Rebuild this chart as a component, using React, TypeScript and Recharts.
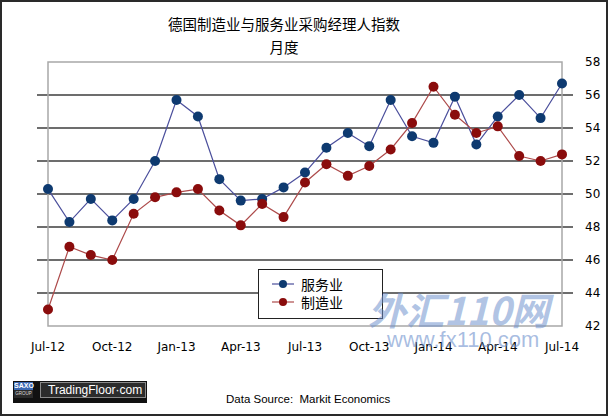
import React from "react";
import {
  LineChart,
  Line,
  XAxis,
  YAxis,
  CartesianGrid,
  Legend,
  ReferenceArea,
} from "recharts";

// Jul-12 .. Jul-14, monthly
const months = [
  "Jul-12", "Aug-12", "Sep-12", "Oct-12", "Nov-12", "Dec-12",
  "Jan-13", "Feb-13", "Mar-13", "Apr-13", "May-13", "Jun-13",
  "Jul-13", "Aug-13", "Sep-13", "Oct-13", "Nov-13", "Dec-13",
  "Jan-14", "Feb-14", "Mar-14", "Apr-14", "May-14", "Jun-14", "Jul-14",
];

const services = [
  50.3, 48.3, 49.7, 48.4, 49.7, 52.0, 55.7, 54.7, 50.9, 49.6, 49.7, 50.4,
  51.3, 52.8, 53.7, 52.9, 55.7, 53.5, 53.1, 55.9, 53.0, 54.7, 56.0, 54.6, 56.7,
];

const manufacturing = [
  43.0, 46.8, 46.3, 46.0, 48.8, 49.8, 50.1, 50.3, 49.0, 48.1, 49.4, 48.6,
  50.7, 51.8, 51.1, 51.7, 52.7, 54.3, 56.5, 54.8, 53.7, 54.1, 52.3, 52.0, 52.4,
];

const yTicks = [42, 44, 46, 48, 50, 52, 54, 56, 58];
const gridValues = [44, 46, 48, 50, 52, 54, 56];

const data = months.map((m, i) => ({
  month: m,
  services: services[i],
  manufacturing: manufacturing[i],
}));

const BLUE_DOT = "#0e3a70";
const BLUE_LINE = "#4b4f9c";
const RED_DOT = "#8a0c0c";
const RED_LINE = "#ad4a4a";

const axisFont = { fontFamily: "DejaVu Sans", fontSize: 12, fill: "#000" };

function LegendBox() {
  const row = (label: string, line: string, dot: string) => (
    <div style={{ display: "flex", alignItems: "center", height: 18 }}>
      <svg width={24} height={12} style={{ marginRight: 6 }}>
        <line x1={1} y1={6} x2={23} y2={6} stroke={line} strokeWidth={1.2} />
        <circle cx={12} cy={6} r={4} fill={dot} />
      </svg>
      <span style={{ fontFamily: "Noto Sans CJK SC", fontSize: 14, color: "#000" }}>
        {label}
      </span>
    </div>
  );
  return (
    <div
      style={{
        boxSizing: "border-box",
        width: 125,
        height: 50,
        border: "1px solid #222",
        background: "#fff",
        padding: "5px 0 0 12px",
      }}
    >
      {row("服务业", BLUE_LINE, BLUE_DOT)}
      {row("制造业", RED_LINE, RED_DOT)}
    </div>
  );
}

export default function App() {
  return (
    <div
      style={{
        position: "absolute",
        left: 0,
        top: 0,
        width: 608,
        height: 416,
        background: "#fff",
        overflow: "hidden",
      }}
    >
      <div
        style={{
          position: "absolute",
          left: 134,
          width: 300,
          top: 14,
          textAlign: "center",
          fontFamily: "Noto Sans CJK SC",
          fontSize: 14.5,
          lineHeight: "20px",
          color: "#000",
        }}
      >
        德国制造业与服务业采购经理人指数
        <br />
        <span style={{ lineHeight: "26px" }}>月度</span>
      </div>

      <LineChart
        width={608}
        height={416}
        data={data}
        margin={{ top: 62, right: 5, bottom: 60, left: 37 }}
        style={{ position: "absolute", left: 0, top: 0 }}
      >
        <ReferenceArea
          y1={42}
          y2={58}
          fill="none"
          stroke="#a8a8a8"
          strokeWidth={1.5}
          ifOverflow="visible"
        />
        <CartesianGrid
          vertical={false}
          horizontalValues={gridValues}
          stroke="#3c3c3c"
          strokeWidth={1.4}
        />
        <XAxis
          dataKey="month"
          interval={2}
          padding={{ left: 11, right: 11 }}
          axisLine={false}
          tickLine={false}
          tickMargin={10}
          tick={axisFont}
        />
        <YAxis
          orientation="right"
          domain={[42, 58]}
          ticks={yTicks}
          width={30}
          axisLine={false}
          tickLine={false}
          tickMargin={6}
          tick={axisFont}
        />
        <Legend
          layout="horizontal"
          verticalAlign="middle"
          align="center"
          content={() => <LegendBox />}
          wrapperStyle={{ left: 258, top: 269, width: 125, height: 50 }}
        />
        <Line
          dataKey="services"
          name="服务业"
          stroke={BLUE_LINE}
          strokeWidth={1.2}
          dot={{ r: 5, fill: BLUE_DOT, stroke: BLUE_DOT, strokeWidth: 0 }}
          isAnimationActive={false}
        />
        <Line
          dataKey="manufacturing"
          name="制造业"
          stroke={RED_LINE}
          strokeWidth={1.2}
          dot={{ r: 5, fill: RED_DOT, stroke: RED_DOT, strokeWidth: 0 }}
          isAnimationActive={false}
        />
      </LineChart>

      {/* site watermark */}
      <div
        style={{
          position: "absolute",
          left: 368,
          top: 289,
          fontFamily: "Noto Sans CJK SC",
          fontWeight: 700,
          fontStyle: "italic",
          fontSize: 38,
          lineHeight: "40px",
          color: "rgba(110,145,205,0.55)",
          pointerEvents: "none",
        }}
      >
        外汇110网
      </div>
      <div
        style={{
          position: "absolute",
          left: 387,
          top: 327,
          fontFamily: "Liberation Sans",
          fontSize: 22,
          lineHeight: "26px",
          color: "rgba(110,145,205,0.6)",
          pointerEvents: "none",
        }}
      >
        www.fx110.com
      </div>

      {/* footer logo */}
      <div style={{ position: "absolute", left: 13, top: 381, width: 134, height: 22, background: "#111" }} />
      <div style={{ position: "absolute", left: 14, top: 382, width: 19, height: 16 }}>
        <div
          style={{
            height: 8,
            background: "#3a68b2",
            color: "#fff",
            fontFamily: "Liberation Sans",
            fontWeight: 700,
            fontSize: 7,
            lineHeight: "8px",
            textAlign: "center",
          }}
        >
          SAXO
        </div>
        <div
          style={{
            height: 8,
            background: "#2a2a2a",
            color: "#ddd",
            fontFamily: "Liberation Sans",
            fontSize: 4.5,
            lineHeight: "8px",
            textAlign: "center",
          }}
        >
          GROUP
        </div>
      </div>
      <div
        style={{
          position: "absolute",
          left: 40,
          top: 382,
          width: 106,
          height: 16,
          boxSizing: "border-box",
          border: "1px solid #8a8a8a",
          background: "#2c2c2c",
          color: "#fff",
          fontFamily: "Liberation Sans",
          fontSize: 12,
          lineHeight: "14px",
          paddingLeft: 7,
        }}
      >
        TradingFloor·com
      </div>
      <div
        style={{
          position: "absolute",
          left: 226,
          top: 391,
          fontFamily: "Liberation Sans",
          fontSize: 11.5,
          lineHeight: "16px",
          color: "#000",
          whiteSpace: "pre",
        }}
      >
        Data Source:  Markit Economics
      </div>

      <div
        style={{
          position: "absolute",
          inset: 0,
          boxSizing: "border-box",
          border: "2px solid #2a2a2a",
          pointerEvents: "none",
        }}
      />
    </div>
  );
}
